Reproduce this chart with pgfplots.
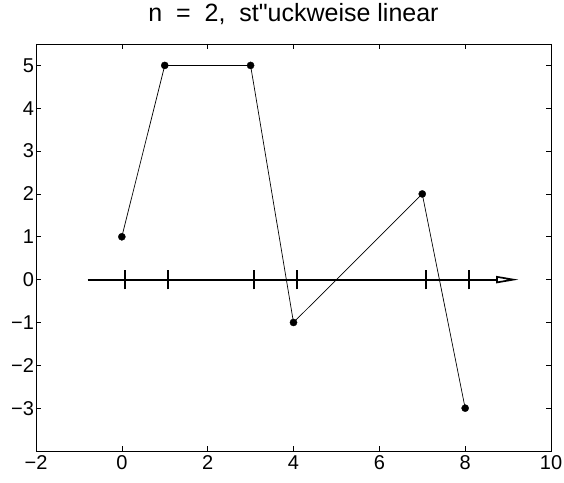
\documentclass[border=0pt]{standalone}
\usepackage{fontspec}
\setmainfont{Liberation Sans}
% family without TeX ligatures, so that " stays a straight quote
\newfontfamily\plainsans{Liberation Sans}
\usepackage{pgfplots}
\pgfplotsset{compat=1.18}

\begin{document}
\begin{tikzpicture}[x=1pt,y=1pt]
\useasboundingbox (-36,-31) rectangle (528,451);
\begin{axis}[
  at={(0,0)}, anchor=south west,
  scale only axis, width=515pt, height=407pt,
  xmin=-2, xmax=10, ymin=-4, ymax=5.5,
  xtick={-2,0,2,4,6,8,10},
  xticklabels={−2,0,2,4,6,8,10},
  ytick={-3,-2,-1,0,1,2,3,4,5},
  yticklabels={−3,−2,−1,0,1,2,3,4,5},
  tick align=inside,
  major tick length=5pt,
  tick style={black, line width=0.6pt},
  axis line style={line width=0.9pt},
  every tick label/.append style={font=\fontsize{20}{24}\selectfont},
  xticklabel style={yshift=-1pt},
  yticklabel style={xshift=1.5pt},
  title={n\ \ =\ \ 2,\ \ st"uckweise linear},
  title style={at={(0.5,1)}, anchor=base, yshift=16.5pt,
    font=\plainsans\fontsize{25}{29}\selectfont},
  clip=false,
  unbounded coords=jump,
]
% number line with knot ticks
\addplot[black, line width=2pt] coordinates {(-0.8,0) (8.74,0)};
\addplot[black, line width=2pt] coordinates {
  (0.08,-0.23) (0.08,0.23) (nan,nan)
  (1.08,-0.23) (1.08,0.23) (nan,nan)
  (3.085,-0.23) (3.085,0.23) (nan,nan)
  (4.08,-0.23) (4.08,0.23) (nan,nan)
  (7.09,-0.23) (7.09,0.23) (nan,nan)
  (8.09,-0.23) (8.09,0.23)};
\addplot[black, fill=white, line width=1.7pt, line join=miter] coordinates {
  (8.74,0.065) (9.12,0) (8.74,-0.065)} -- cycle;
% piecewise linear interpolant
\addplot[black, line width=0.7pt, mark=*, mark size=3.6pt,
  mark options={fill=black, line width=0.3pt}] coordinates {
  (0,1) (1,5) (3,5) (4,-1) (7,2) (8,-3)};
\end{axis}
\end{tikzpicture}
\end{document}
